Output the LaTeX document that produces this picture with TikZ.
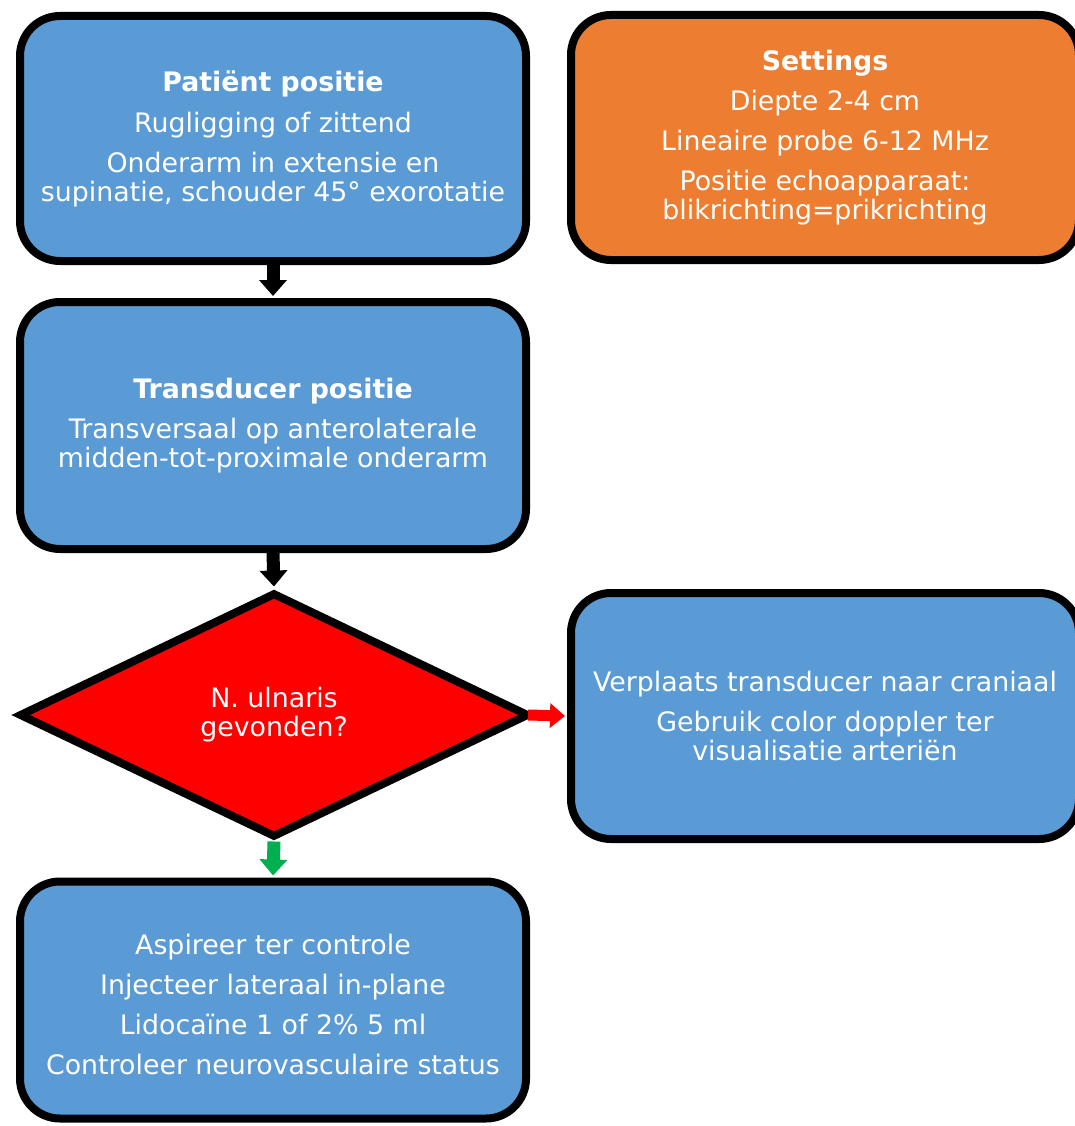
\documentclass[tikz,border=0pt]{standalone}
\usepackage{fontspec}
\setmainfont{DejaVu Sans}
\usetikzlibrary{shapes.geometric,arrows.meta}
\definecolor{boxblue}{HTML}{5B9BD5}
\definecolor{boxorange}{HTML}{ED7D31}
\definecolor{arrgreen}{HTML}{00B050}
\begin{document}
\begin{tikzpicture}[x=1pt,y=-1pt,
  box/.style={draw=black, line width=8pt, rounded corners=40pt, fill=boxblue,
    text=white, align=center, font=\fontsize{26.8}{29}\selectfont,
    minimum width=506pt, minimum height=245pt, inner sep=0pt},
  boxtext/.style={text=white, align=center, font=\fontsize{26.8}{29}\selectfont, inner sep=0pt},
  dec/.style={shape=diamond, draw=black, line width=8pt, fill=red, text=white,
    align=center, font=\fontsize{26.8}{29}\selectfont, aspect=2.08,
    minimum width=510pt, minimum height=245pt, inner sep=0pt, line join=miter},
  blockarr/.style={line width=13pt, -{Triangle[width=27pt,length=16pt]}, shorten >=2pt},
  sidearr/.style={line width=11pt, -{Triangle[width=24pt,length=15pt]}, shorten >=2pt}
]
\useasboundingbox (0,0) rectangle (1075,1126);
\clip (0,0) rectangle (1075,1126);

\node[box] (b1) at (273,138.5) {\textbf{Patiënt positie}\\[12pt]
  Rugligging of zittend\\[11pt]
  Onderarm in extensie en\\
  supinatie, schouder 45° exorotatie};

\node[box, fill=boxorange, minimum width=508pt] (set) at (825,137.5) {\textbf{Settings}\\[11pt]
  Diepte 2-4 cm\\[11pt]
  Lineaire probe 6-12 MHz\\[11pt]
  Positie echoapparaat:\\
  blikrichting=prikrichting};

\node[box, minimum height=247pt] (b2) at (273,425.5) {\textbf{Transducer positie}\\[11pt]
  Transversaal op anterolaterale\\
  midden-tot-proximale onderarm};

\node[dec] (dia) at (274,715) {N. ulnaris\\gevonden?};

\node[box, minimum width=508pt, minimum height=246pt] (b4) at (825,716) {Verplaats transducer naar craniaal\\[11pt]
  Gebruik color doppler ter\\
  visualisatie arteriën};

\node[box, minimum height=237pt] (b5) at (273,1000) {};
\node[boxtext] (b5t) at (273,1004.5) {Aspireer ter controle\\[11pt]
  Injecteer lateraal in-plane\\[11pt]
  Lidocaïne 1 of 2\% 5 ml\\[11pt]
  Controleer neurovasculaire status};

\draw[blockarr, black] (b1.south) -- (b2.north);
\draw[blockarr, black] (b2.south) -- (dia.north);
\draw[sidearr, red] ([xshift=-5pt]dia.east) -- (b4.west);
\draw[blockarr, arrgreen] (dia.south) -- (b5.north);
\end{tikzpicture}
\end{document}
